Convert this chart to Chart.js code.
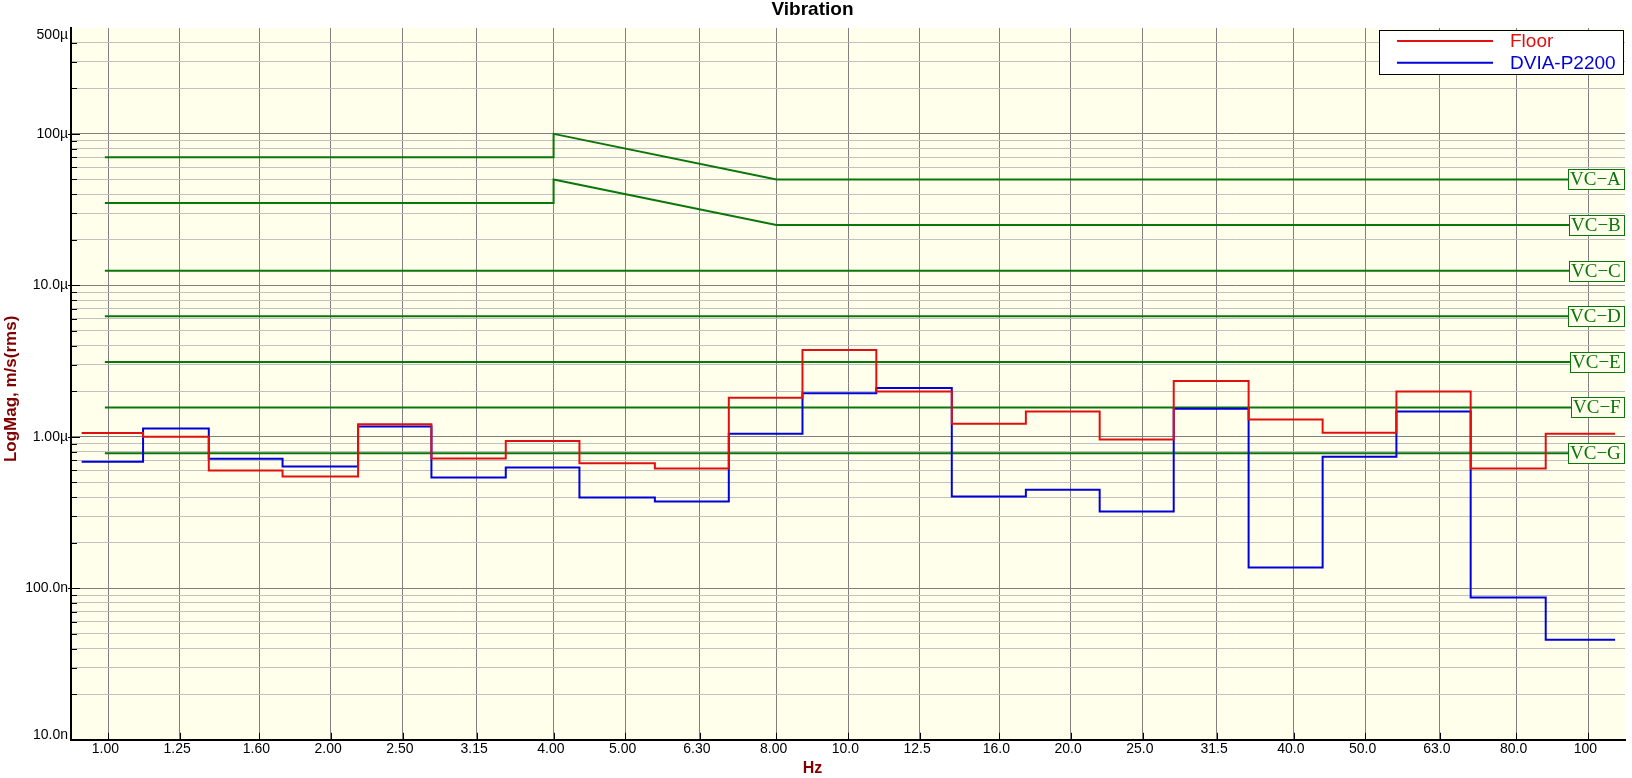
<!DOCTYPE html>
<html>
<head>
<meta charset="utf-8">
<title>Vibration</title>
<script src="https://cdn.jsdelivr.net/npm/chart.js@4.4.1/dist/chart.umd.min.js"></script>
<style>
  html, body { margin: 0; padding: 0; background: #fff; }
  canvas { display: block; }
</style>
</head>
<body>
<canvas id="vibrationChart" width="1632" height="778"></canvas>
<script>
// 1/3 octave band centres on the x axis
const xTickValues = [1, 1.25, 1.6, 2, 2.5, 3.15, 4, 5, 6.3, 8, 10, 12.5, 16, 20, 25, 31.5, 40, 50, 63, 80, 100];
const xTickLabels = ['1.00', '1.25', '1.60', '2.00', '2.50', '3.15', '4.00', '5.00', '6.30', '8.00', '10.0',
  '12.5', '16.0', '20.0', '25.0', '31.5', '40.0', '50.0', '63.0', '80.0', '100'];

// where each band step starts / ends (Hz)
const bandEdges = [0.921, 1.115, 1.368, 1.721, 2.177, 2.735, 3.447, 4.335, 5.482, 6.90, 8.678,
  10.92, 13.81, 17.39, 21.88, 27.55, 34.78, 43.79, 55.09, 69.41, 87.67, 108.8];

// band levels in um/s rms
const floorLevels = [1.06, 1.00, 0.60, 0.547, 1.21, 0.72, 0.94, 0.67, 0.618, 1.81, 3.75,
  1.99, 1.22, 1.47, 0.96, 2.34, 1.30, 1.063, 1.99, 0.618, 1.047];
const dviaLevels = [0.684, 1.134, 0.716, 0.637, 1.17, 0.539, 0.627, 0.398, 0.374, 1.047, 1.94,
  2.10, 0.404, 0.447, 0.322, 1.53, 0.137, 0.738, 1.47, 0.087, 0.0458];

// y axis labels (m/s)
const yTickValues = [1e-8, 1e-7, 1e-6, 1e-5, 1e-4, 5e-4];
const yTickLabels = ['10.0n', '100.0n', '1.00\u00b5', '10.0\u00b5', '100\u00b5', '500\u00b5'];

// VC criteria (frequency in Hz, level in um/s)
const vcAFreq = [0.99, 4, 4, 8, 100];
const vcALevel = [70, 70, 100, 50, 50];
const vcBFreq = [0.99, 4, 4, 8, 100];
const vcBLevel = [35, 35, 50, 25, 25];
const vcFlatFreq = [0.99, 100];
const vcFlatLevels = [12.5, 6.25, 3.125, 1.5625, 0.78];
const vcNames = ['VC\u2212A', 'VC\u2212B', 'VC\u2212C', 'VC\u2212D', 'VC\u2212E', 'VC\u2212F', 'VC\u2212G'];

const UM = 1e-6;
const GREEN = '#0b760b';
const AXIS_RED = '#800000';

const isDecade = v => {
  const m = v / Math.pow(10, Math.floor(Math.log10(v) + 1e-9));
  return Math.abs(m - 1) < 1e-6;
};

// step series: each band value holds from its lower to its upper edge
function bandSeries(levels) {
  return bandEdges.map((f, i) => ({ x: f, y: levels[Math.min(i, levels.length - 1)] * UM }));
}

function curve(freqs, levels) {
  return freqs.map((f, i) => ({ x: f, y: levels[i] * UM }));
}

const vcCurves = [curve(vcAFreq, vcALevel), curve(vcBFreq, vcBLevel)]
  .concat(vcFlatLevels.map(l => curve(vcFlatFreq, vcFlatFreq.map(() => l))));

const datasets = [
  { label: 'Floor', data: bandSeries(floorLevels), borderColor: '#e01010', stepped: true },
  { label: 'DVIA-P2200', data: bandSeries(dviaLevels), borderColor: '#0000d8', stepped: true },
].concat(vcCurves.map((d, i) => ({ label: vcNames[i], data: d, borderColor: GREEN, vc: true })));

datasets.forEach(ds => {
  ds.borderWidth = 2;
  ds.pointRadius = 0;
  ds.pointHoverRadius = 0;
  ds.tension = 0;
  ds.fill = false;
});

const plotDecor = {
  id: 'plotDecor',
  beforeDraw(chart) {
    const { ctx, chartArea: a } = chart;
    ctx.save();
    ctx.fillStyle = '#ffffeb';
    ctx.fillRect(a.left, a.top, a.right - a.left, a.bottom - a.top);
    ctx.restore();
  },
  afterDraw(chart) {
    const { ctx, chartArea: a, scales: { x, y } } = chart;
    ctx.save();

    // small black tick marks inside the axes
    ctx.strokeStyle = '#000';
    ctx.lineWidth = 1;
    ctx.beginPath();
    y.ticks.forEach(t => {
      if (t.value >= y.max || t.value <= y.min) return;
      const py = Math.round(y.getPixelForValue(t.value)) + 0.5;
      if (isDecade(t.value)) {
        ctx.moveTo(a.left - 3, py); ctx.lineTo(a.left + 9, py);
      } else {
        ctx.moveTo(a.left, py); ctx.lineTo(a.left + 6, py);
      }
    });
    xTickValues.forEach(v => {
      const px = Math.round(x.getPixelForValue(v)) + 0.5;
      ctx.moveTo(px, a.bottom); ctx.lineTo(px, a.bottom - 7);
    });
    ctx.stroke();

    // y tick labels, kept inside the plot height
    ctx.fillStyle = '#000';
    ctx.font = '14px "Liberation Sans", Arial, sans-serif';
    ctx.textAlign = 'right';
    ctx.textBaseline = 'middle';
    yTickValues.forEach((v, i) => {
      let py = y.getPixelForValue(v);
      py = Math.min(Math.max(py, a.top + 7), a.bottom - 5);
      ctx.fillText(yTickLabels[i], a.left - 3, py);
    });

    // y axis title
    ctx.save();
    ctx.translate(11, (a.top + a.bottom) / 2 + 5);
    ctx.rotate(-Math.PI / 2);
    ctx.textAlign = 'center';
    ctx.fillStyle = AXIS_RED;
    ctx.font = 'bold 17px "Liberation Sans", Arial, sans-serif';
    ctx.fillText('LogMag, m/s(rms)', 0, 0);
    ctx.restore();

    // VC labels at the right edge
    ctx.font = '19px "Liberation Serif", "Times New Roman", serif';
    ctx.textAlign = 'left';
    chart.data.datasets.forEach(ds => {
      if (!ds.vc) return;
      const last = ds.data[ds.data.length - 1];
      const py = Math.round(y.getPixelForValue(last.y));
      const w = Math.ceil(ctx.measureText(ds.label).width) + 5;
      const bx = Math.round(a.right - 1 - w);
      ctx.fillStyle = '#ffffeb';
      ctx.fillRect(bx, py - 10, w, 20);
      ctx.strokeStyle = GREEN;
      ctx.strokeRect(bx + 0.5, py - 9.5, w, 20);
      ctx.fillStyle = GREEN;
      ctx.fillText(ds.label, bx + 2, py + 1);
    });

    // legend box, top right
    const lw = 244, lh = 44;
    const lx = Math.round(a.right - 2 - lw), ly = Math.round(a.top + 2);
    ctx.fillStyle = '#fff';
    ctx.fillRect(lx, ly, lw, lh);
    ctx.strokeStyle = '#000';
    ctx.strokeRect(lx + 0.5, ly + 0.5, lw, lh);
    ctx.font = '19px "Liberation Sans", Arial, sans-serif';
    chart.data.datasets.slice(0, 2).forEach((ds, i) => {
      const ry = ly + 11 + i * 21.7;
      ctx.strokeStyle = ds.borderColor;
      ctx.lineWidth = 2;
      ctx.beginPath();
      ctx.moveTo(lx + 18, ry); ctx.lineTo(lx + 114, ry);
      ctx.stroke();
      ctx.fillStyle = ds.borderColor;
      ctx.fillText(ds.label, lx + 131, ry + 1);
    });
    ctx.restore();
  }
};

Chart.defaults.font.family = '"Liberation Sans", Arial, sans-serif';
Chart.defaults.color = '#000';

new Chart(document.getElementById('vibrationChart'), {
  type: 'line',
  data: { datasets },
  options: {
    responsive: false,
    animation: false,
    events: [],
    layout: { padding: { left: 0, right: 7, top: 0, bottom: 0 } },
    plugins: {
      legend: { display: false },
      tooltip: { enabled: false },
      title: {
        display: true,
        text: 'Vibration',
        color: '#000',
        font: { size: 19, weight: 'bold', lineHeight: 1 },
        padding: { top: 0.5, bottom: 8.5 },
      },
      subtitle: {
        display: true,
        position: 'bottom',
        text: 'Hz',
        color: AXIS_RED,
        font: { size: 16, weight: 'bold', lineHeight: 1.2 },
        padding: 0,
      },
    },
    scales: {
      x: {
        type: 'logarithmic',
        min: 0.891,
        max: 112.2,
        afterBuildTicks: scale => {
          scale.ticks = xTickValues.map(v => ({ value: v }));
        },
        afterFit: scale => { scale.height = 19; },
        ticks: {
          autoSkip: false,
          maxRotation: 0,
          padding: 1,
          labelOffset: -2.7,
          font: { size: 14 },
          callback: (value, index) => xTickLabels[index],
        },
        grid: { color: '#808080', lineWidth: 1, drawTicks: false },
        border: { display: true, color: '#000', width: 2 },
      },
      y: {
        type: 'logarithmic',
        min: 1e-8,
        max: 5e-4,
        afterBuildTicks: scale => {
          // keep 1..9 x 10^n only
          scale.ticks = scale.ticks.filter(t => {
            const m = t.value / Math.pow(10, Math.floor(Math.log10(t.value) + 1e-9));
            return Math.abs(m - Math.round(m)) < 1e-6;
          });
        },
        afterFit: scale => { scale.width = 71; },
        ticks: { display: false },
        grid: {
          drawTicks: false,
          lineWidth: 1,
          color: c => {
            if (!c.tick || c.tick.value >= 5e-4) return 'rgba(0,0,0,0)';
            return isDecade(c.tick.value) ? '#808080' : '#c0c0c0';
          },
        },
        border: { display: true, color: '#000', width: 2 },
      },
    },
  },
  plugins: [plotDecor],
});
</script>
</body>
</html>
